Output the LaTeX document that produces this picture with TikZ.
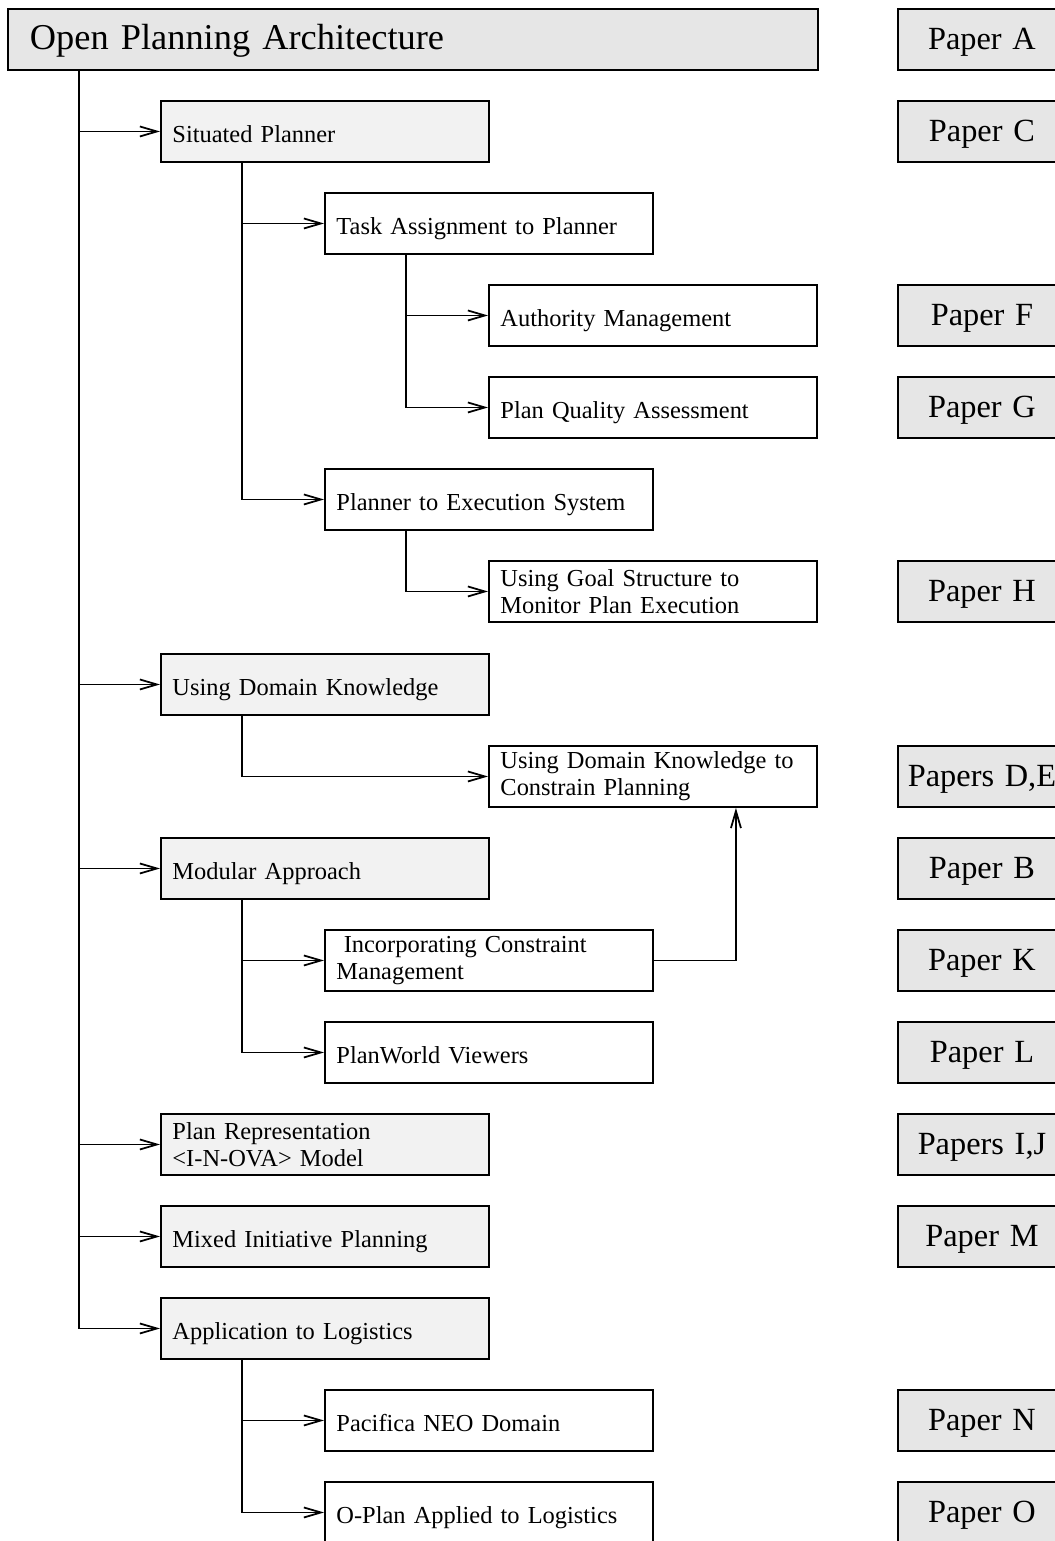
\documentclass[tikz,border=0pt]{standalone}
\usepackage{fontspec}
\setmainfont{Liberation Serif}
\usepackage{tikz}
\usetikzlibrary{arrows.meta,positioning}
\definecolor{OpaGray}{HTML}{E6E6E6}
\definecolor{OpaLight}{HTML}{F2F2F2}

\begin{document}
\begin{tikzpicture}[
every node/.style={anchor=north west, inner ysep=1pt},
topbox/.style={draw, line width=1.1pt, fill=OpaGray, minimum height=1.22cm, text width=15.32cm, inner xsep=0.44cm, align=left, text height=0.42cm, text depth=0pt, font=\fontsize{20.7}{24}\selectfont},
paperbox/.style={draw, line width=1.1pt, fill=OpaGray, minimum height=1.22cm, text width=3.2cm, inner xsep=0.08cm, align=center, text height=0.42cm, text depth=0pt, font=\fontsize{18.4}{22}\selectfont},
lvlone/.style={draw, line width=1.1pt, fill=OpaLight, minimum height=1.22cm, text width=6.1cm, inner xsep=0.23cm, align=left, text height=0.46cm, text depth=0pt, font=\fontsize{13.9}{15.3}\selectfont},
lvltwo/.style={lvlone, fill=white},
twoline/.style={text height={}, text depth={}},
arrow/.style={-{Straight Barb[length=3.4mm,width=2mm]}, line width=1pt}
]
\useasboundingbox (0,0) rectangle (21.1,-30.82);
% main tree
\node[topbox] (opa) at (0.14,-0.16) {Open Planning Architecture};
\node[lvlone] (sit) at (3.20,-2.00) {Situated Planner};
\node[lvltwo] (task) at (6.48,-3.84) {Task Assignment to Planner};
\node[lvltwo] (auth) at (9.76,-5.68) {Authority Management};
\node[lvltwo] (qual) at (9.76,-7.52) {Plan Quality Assessment};
\node[lvltwo] (exec) at (6.48,-9.36) {Planner to Execution System};
\node[lvltwo, twoline] (goal) at (9.76,-11.20) {Using Goal Structure to\\Monitor Plan Execution};
\node[lvlone] (dom) at (3.20,-13.06) {Using Domain Knowledge};
\node[lvltwo, twoline] (domc) at (9.76,-14.90) {Using Domain Knowledge to\\Constrain Planning};
\node[lvlone] (mod) at (3.20,-16.74) {Modular Approach};
\node[lvltwo, twoline] (cons) at (6.48,-18.58) {\hspace{0.3em}Incorporating Constraint\\Management};
\node[lvltwo] (view) at (6.48,-20.42) {PlanWorld Viewers};
\node[lvlone, twoline] (rep) at (3.20,-22.26) {Plan Representation\\<I-N-OVA> Model};
\node[lvlone] (mix) at (3.20,-24.10) {Mixed Initiative Planning};
\node[lvlone] (app) at (3.20,-25.94) {Application to Logistics};
\node[lvltwo] (neo) at (6.48,-27.78) {Pacifica NEO Domain};
\node[lvltwo] (olog) at (6.48,-29.62) {O-Plan Applied to Logistics};
% papers
\node[paperbox] (pa) at (17.94,-0.16) {Paper A};
\node[paperbox] (pc) at (17.94,-2.00) {Paper C};
\node[paperbox] (pf) at (17.94,-5.68) {Paper F};
\node[paperbox] (pg) at (17.94,-7.52) {Paper G};
\node[paperbox] (ph) at (17.94,-11.20) {Paper H};
\node[paperbox] (pde) at (17.94,-14.90) {Papers D,E};
\node[paperbox] (pb) at (17.94,-16.74) {Paper B};
\node[paperbox] (pk) at (17.94,-18.58) {Paper K};
\node[paperbox] (pl) at (17.94,-20.42) {Paper L};
\node[paperbox] (pij) at (17.94,-22.26) {Papers I,J};
\node[paperbox] (pm) at (17.94,-24.10) {Paper M};
\node[paperbox] (pn) at (17.94,-27.78) {Paper N};
\node[paperbox] (po) at (17.94,-29.62) {Paper O};
% trunks
\coordinate (t0) at ([xshift=1.44cm]opa.south west);
\coordinate (t1) at ([xshift=1.64cm]sit.south west);
\coordinate (t2) at ([xshift=1.64cm]task.south west);
\coordinate (t3) at ([xshift=1.64cm]exec.south west);
\coordinate (t4) at ([xshift=1.64cm]dom.south west);
\coordinate (t5) at ([xshift=1.64cm]mod.south west);
\coordinate (t6) at ([xshift=1.64cm]app.south west);
\draw[arrow] (t0) |- (app.west);
\foreach \n in {sit,dom,mod,rep,mix}
  \draw[arrow] (t0 |- \n.west) -- (\n.west);
\draw[arrow] (t1) |- (exec.west);
\draw[arrow] (t1 |- task.west) -- (task.west);
\draw[arrow] (t2) |- (qual.west);
\draw[arrow] (t2 |- auth.west) -- (auth.west);
\draw[arrow] (t3) |- (goal.west);
\draw[arrow] (t4) |- (domc.west);
\draw[arrow] (t5) |- (view.west);
\draw[arrow] (t5 |- cons.west) -- (cons.west);
\draw[arrow] (t6) |- (olog.west);
\draw[arrow] (t6 |- neo.west) -- (neo.west);
\draw[arrow] (cons.east) -| ([xshift=-1.64cm]domc.south east);
\end{tikzpicture}
\end{document}
